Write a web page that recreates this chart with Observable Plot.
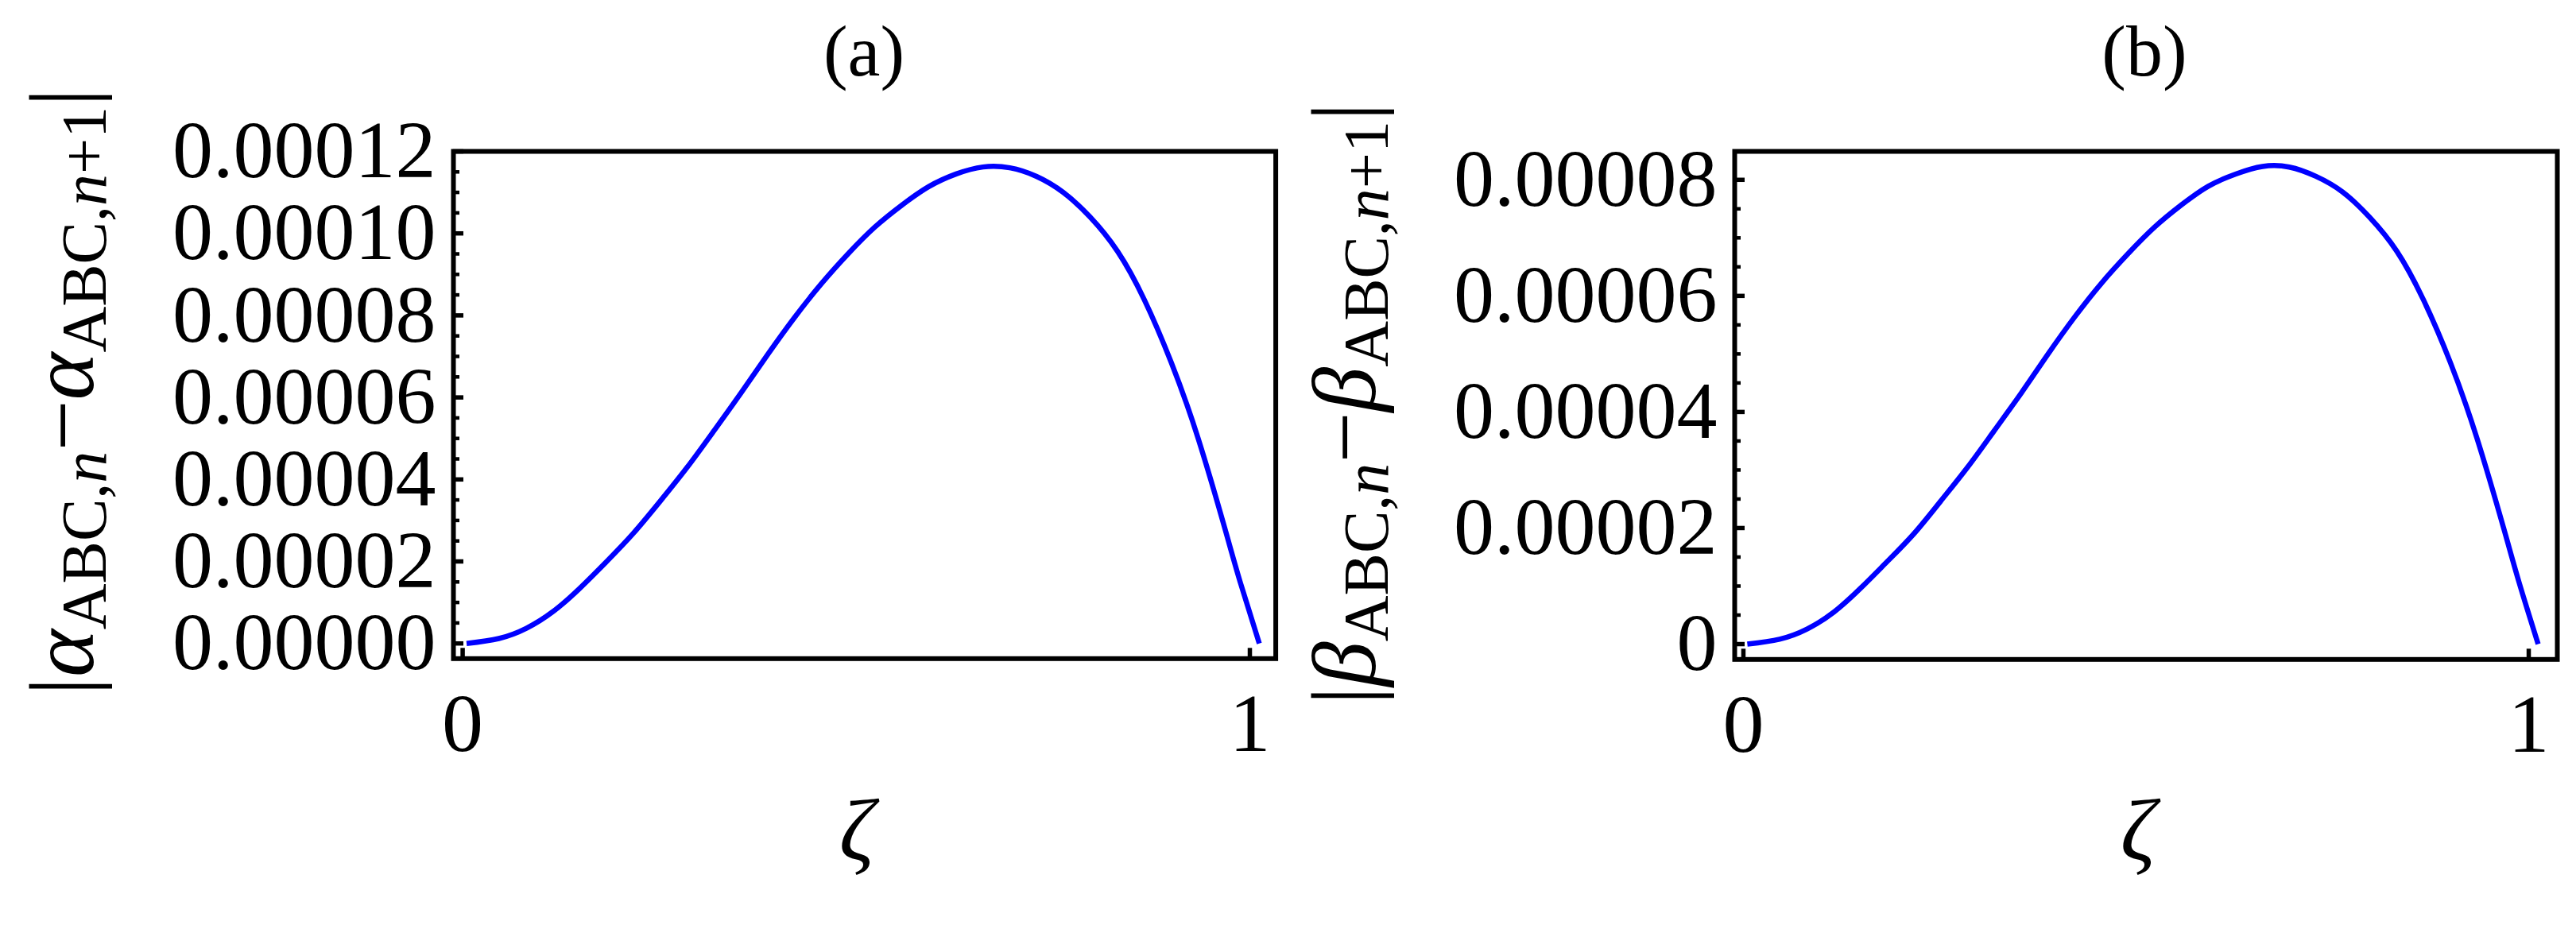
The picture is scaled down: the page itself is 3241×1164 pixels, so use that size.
<!DOCTYPE html>
<html>
<head>
<meta charset="utf-8">
<script src="https://cdn.jsdelivr.net/npm/d3@7"></script>
<script src="https://cdn.jsdelivr.net/npm/@observablehq/plot@0.6"></script>
<style>
  html, body { margin: 0; padding: 0; background: #ffffff; }
  #wrap { position: relative; width: 3241px; height: 1164px; background: #ffffff; overflow: hidden; }
  #wrap > svg { position: absolute; top: 0; }
</style>
</head>
<body>
<div id="wrap"></div>
<script>
// ---- data ----
const zeta = [0.005, 0.046, 0.081, 0.115, 0.149, 0.183, 0.217, 0.251, 0.285, 0.319,
              0.354, 0.388, 0.422, 0.456, 0.490, 0.524, 0.558, 0.592, 0.627, 0.661,
              0.695, 0.729, 0.763, 0.797, 0.832, 0.866, 0.900, 0.934, 0.968,
              0.988, 1.012];
// panel (a): |alpha_ABC,n - alpha_ABC,n+1|  (units of 1e-5)
const alphaDiff = [0, 0.12, 0.37, 0.78, 1.35, 2.00, 2.69, 3.47, 4.29, 5.18,
                   6.12, 7.06, 7.96, 8.78, 9.51, 10.16, 10.69, 11.14, 11.45, 11.62,
                   11.60, 11.39, 11.00, 10.40, 9.56, 8.38, 6.86, 5.02, 2.82,
                   1.48, 0];
// panel (b): |beta_ABC,n - beta_ABC,n+1|  (units of 1e-5)
const betaDiff = [0, 0.085, 0.26, 0.55, 0.96, 1.42, 1.90, 2.46, 3.04, 3.67,
                  4.33, 5.00, 5.64, 6.22, 6.73, 7.19, 7.57, 7.89, 8.10, 8.23,
                  8.22, 8.06, 7.79, 7.36, 6.77, 5.93, 4.86, 3.55, 2.00,
                  1.05, 0];
const xTicks = [0, 1];
const yTicksA = [0, 0.00002, 0.00004, 0.00006, 0.00008, 0.00010, 0.00012];
const yTicksB = [0, 0.00002, 0.00004, 0.00006, 0.00008];
const panelTitles = ["(a)", "(b)"];
const xLabel = "ζ";

const H = 1164;
const FONT = "Liberation Serif, Times New Roman, serif";

function makePanel(cfg) {
  const data = zeta.map((z, i) => ({z, v: cfg.vals[i] * 1e-5}));
  const innerW = cfg.width - cfg.mL - cfg.mR;
  const innerH = H - cfg.mT - cfg.mB;
  const xPx = innerW / (cfg.xDom[1] - cfg.xDom[0]);
  const yPx = innerH / (cfg.yDom[1] - cfg.yDom[0]);
  const majLen = 13 / xPx, minLen = 8 / xPx, xTickLen = 13 / yPx;
  const minor = d3.range(0, cfg.yDom[1], 0.000005)
    .filter(t => !cfg.yTicks.some(m => Math.abs(m - t) < 1e-9));
  const svg = Plot.plot({
    width: cfg.width, height: H,
    marginLeft: cfg.mL, marginRight: cfg.mR, marginTop: cfg.mT, marginBottom: cfg.mB,
    x: {domain: cfg.xDom},
    y: {domain: cfg.yDom},
    style: {fontFamily: FONT, background: "white", color: "black"},
    marks: [
      Plot.ruleY(cfg.yTicks, {y: d => d, x1: cfg.xDom[0], x2: cfg.xDom[0] + majLen, stroke: "black", strokeWidth: 5.5}),
      Plot.ruleY(minor, {y: d => d, x1: cfg.xDom[0], x2: cfg.xDom[0] + minLen, stroke: "black", strokeWidth: 4.5}),
      Plot.ruleX(xTicks, {x: d => d, y1: cfg.yDom[0], y2: cfg.yDom[0] + xTickLen, stroke: "black", strokeWidth: 5.5}),
      Plot.line(data, {x: "z", y: "v", stroke: "#0000ff", strokeWidth: 6.5, curve: "natural", strokeLinecap: "butt"}),
      Plot.frame({stroke: "black", strokeWidth: 6}),
      Plot.axisY(cfg.yTicks, {tickSize: 0, tickPadding: 22, tickFormat: cfg.fmt, fontSize: 102, label: null}),
      Plot.axisX(xTicks, {tickSize: 0, tickPadding: 42, tickFormat: d => String(d), fontSize: 104, label: null})
    ]
  });
  svg.style.left = cfg.left + "px";
  const s = d3.select(svg);
  // panel title
  s.append("text").attr("x", cfg.titleX).attr("y", 95).attr("text-anchor", "middle")
    .attr("font-family", FONT).attr("font-size", 92).attr("fill", "black").text(cfg.title);
  // x label
  s.append("text").attr("x", cfg.zetaX).attr("y", 1082).attr("text-anchor", "middle")
    .attr("font-family", FONT).attr("font-style", "italic").attr("font-size", 110).attr("fill", "black").text(xLabel);
  // y label (rotated, with subscripts)
  const t = s.append("text")
    .attr("transform", `translate(${cfg.ylabX},${cfg.ylabY}) rotate(-90)`)
    .attr("text-anchor", "middle").attr("font-family", FONT)
    .attr("font-size", 114).attr("fill", "black");
  const sub = 80, shift = 16;
  t.append("tspan").text("|");
  t.append("tspan").attr("font-style", "italic").text(cfg.sym);
  t.append("tspan").attr("font-size", sub).attr("dy", shift).text("ABC,");
  t.append("tspan").attr("font-size", sub).attr("font-style", "italic").text("n");
  t.append("tspan").attr("dy", -shift).text("−");
  t.append("tspan").attr("font-style", "italic").text(cfg.sym);
  t.append("tspan").attr("font-size", sub).attr("dy", shift).text("ABC,");
  t.append("tspan").attr("font-size", sub).attr("font-style", "italic").text("n");
  t.append("tspan").attr("font-size", sub).text("+1");
  t.append("tspan").attr("dy", -shift).text("|");
  document.getElementById("wrap").appendChild(svg);
}

makePanel({
  left: 0, width: 1620, mL: 570, mR: 15.4, mT: 190, mB: 335.7,
  xDom: [-0.0117, 1.0329], yDom: [-0.0000037, 0.00012],
  yTicks: yTicksA, fmt: d => d.toFixed(5), vals: alphaDiff,
  title: panelTitles[0], titleX: 1087, zetaX: 1078, ylabX: 117, ylabY: 493, sym: "α"
});
makePanel({
  left: 1620, width: 1621, mL: 562, mR: 24, mT: 190, mB: 334.7,
  xDom: [-0.0111, 1.0364], yDom: [-0.00000264, 0.0000849],
  yTicks: yTicksB, fmt: d => d === 0 ? "0" : d.toFixed(5), vals: betaDiff,
  title: panelTitles[1], titleX: 1078, zetaX: 1070, ylabX: 110, ylabY: 508, sym: "β"
});
</script>
</body>
</html>
